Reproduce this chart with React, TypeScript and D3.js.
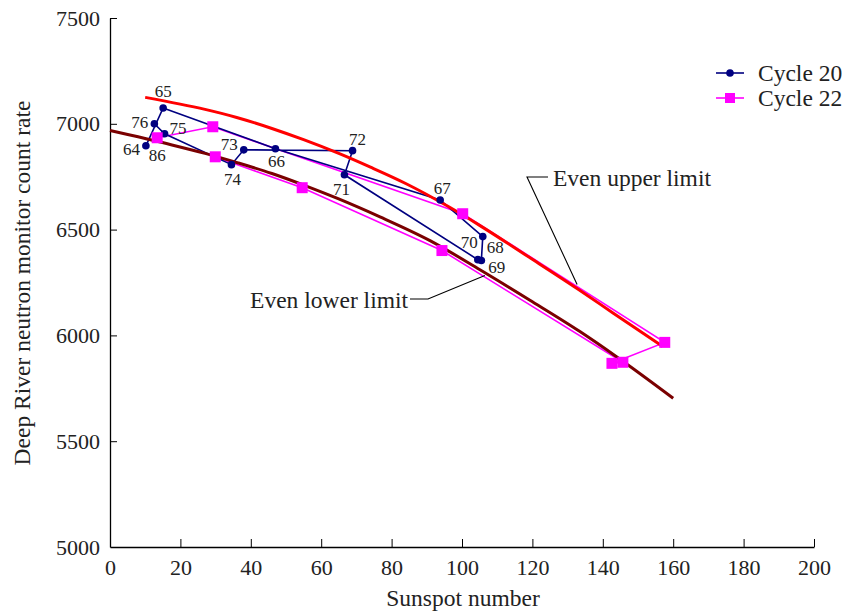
import { useEffect, useRef } from "react";
import * as d3 from "d3";

// Cycle 20 (1964-1976): sunspot number vs count rate
const cycle20Years = ["64", "65", "66", "67", "68", "69", "70", "71", "72", "73", "74", "75", "76"];
const cycle20Sunspot = [10.2, 15.1, 47.0, 93.8, 105.9, 105.5, 104.5, 66.6, 68.9, 38.0, 34.5, 15.5, 12.6];
const cycle20Rate = [6896, 7075, 6882, 6640, 6467, 6354, 6358, 6759, 6873, 6877, 6807, 6953, 7000];

// Cycle 22 (1986-1994)
const cycle22Years = ["86", "87", "88", "89", "90", "91", "92", "93", "94"];
const cycle22Sunspot = [13.4, 29.2, 100.2, 157.6, 142.6, 145.7, 94.3, 54.6, 29.9];
const cycle22Rate = [6934, 6986, 6575, 5967, 5868, 5873, 6401, 6698, 6844];

// limit curves
const upperX = [10, 27, 36, 46, 55, 65, 74, 84, 96, 105, 119, 133, 143, 157];
const upperY = [7125, 7068, 7030, 6978, 6925, 6860, 6795, 6718, 6610, 6520, 6370, 6218, 6105, 5948];
const lowerX = [0, 17.6, 27, 36.4, 46, 55.4, 64.8, 76.7, 90.9, 105.1, 119.3, 133.5, 144, 160];
const lowerY = [6968, 6900, 6860, 6815, 6765, 6708, 6646, 6560, 6448, 6310, 6166, 6018, 5898, 5703];

const xTicks = [0, 20, 40, 60, 80, 100, 120, 140, 160, 180, 200];
const yTicks = [5000, 5500, 6000, 6500, 7000, 7500];

// label offsets for year labels [dx, dy, anchor]
const labelPos: Record<string, [number, number, string]> = {
  "64": [-6, 9, "end"],
  "65": [0, -11, "middle"],
  "66": [1, 18, "middle"],
  "67": [2, -6, "middle"],
  "68": [4, 16, "start"],
  "69": [7, 13, "start"],
  "70": [0, -12, "end"],
  "71": [-3, 20, "middle"],
  "72": [5, -6, "middle"],
  "73": [-6, 0, "end"],
  "74": [1, 20, "middle"],
  "75": [5, 0, "start"],
  "76": [-6, 4, "end"],
};

const FONT = "'Liberation Serif', 'Times New Roman', serif";
const TEXT = "#222";

const App = () => {
  const ref = useRef<SVGSVGElement | null>(null);

  useEffect(() => {
    const svg = d3.select(ref.current);
    svg.selectAll("*").remove();

    const x = d3.scaleLinear().domain([0, 200]).range([110, 814]);
    const y = d3.scaleLinear().domain([5000, 7500]).range([547, 18]);

    const c20 = cycle20Years.map((yr, i) => ({ yr, sx: cycle20Sunspot[i], r: cycle20Rate[i] }));
    const c22 = cycle22Years.map((yr, i) => ({ yr, sx: cycle22Sunspot[i], r: cycle22Rate[i] }));
    const upper = upperX.map((v, i) => [v, upperY[i]]);
    const lower = lowerX.map((v, i) => [v, lowerY[i]]);

    // axes
    const xAxis = d3.axisBottom(x).tickValues(xTicks).tickFormat(d3.format("d"))
      .tickSize(-8).tickSizeOuter(0).tickPadding(12);
    const yAxis = d3.axisLeft(y).tickValues(yTicks).tickFormat(d3.format("d"))
      .tickSize(-7).tickSizeOuter(0).tickPadding(10);

    const gx = svg.append("g").attr("transform", "translate(0,547)").call(xAxis);
    const gy = svg.append("g").attr("transform", "translate(110,0)").call(yAxis);
    [gx, gy].forEach((g) => {
      g.select(".domain").attr("stroke", "#000").attr("stroke-width", 1.3);
      g.selectAll(".tick line").attr("stroke", "#000").attr("stroke-width", 1);
      g.selectAll(".tick text")
        .attr("font-family", FONT)
        .attr("font-size", 22)
        .attr("fill", TEXT);
    });
    gx.selectAll(".tick").filter((d) => d === 0).select("line").remove();
    gy.selectAll(".tick").filter((d) => d === 5000).select("line").remove();

    svg.append("text")
      .attr("x", 463)
      .attr("y", 606)
      .attr("text-anchor", "middle")
      .attr("font-family", FONT)
      .attr("font-size", 23.5)
      .attr("fill", TEXT)
      .text("Sunspot number");

    svg.append("text")
      .attr("transform", "translate(30,283) rotate(-90)")
      .attr("text-anchor", "middle")
      .attr("font-family", FONT)
      .attr("font-size", 23.5)
      .attr("fill", TEXT)
      .text("Deep River neutron monitor count rate");

    const line = d3.line<any>().x((d) => x(d.sx)).y((d) => y(d.r));
    const curve = d3.line<number[]>().x((d) => x(d[0])).y((d) => y(d[1])).curve(d3.curveMonotoneX);

    // series lines
    svg.append("path").datum(c22).attr("d", line).attr("fill", "none")
      .attr("stroke", "#ff00ff").attr("stroke-width", 1.6);
    svg.append("path").datum(c20).attr("d", line).attr("fill", "none")
      .attr("stroke", "#000080").attr("stroke-width", 1.6);

    // limit curves
    svg.append("path").datum(upper).attr("d", curve).attr("fill", "none")
      .attr("stroke", "#ff0000").attr("stroke-width", 3);
    svg.append("path").datum(lower).attr("d", curve).attr("fill", "none")
      .attr("stroke", "#7a0000").attr("stroke-width", 3);

    // markers
    svg.selectAll(".c20dot").data(c20).enter().append("circle")
      .attr("cx", (d) => x(d.sx)).attr("cy", (d) => y(d.r)).attr("r", 3.8)
      .attr("fill", "#000080");
    svg.selectAll(".c22sq").data(c22).enter().append("rect")
      .attr("x", (d) => x(d.sx) - 5.5).attr("y", (d) => y(d.r) - 5.5)
      .attr("width", 11).attr("height", 11).attr("fill", "#ff00ff");

    // year labels
    svg.selectAll(".c20lab").data(c20).enter().append("text")
      .attr("x", (d) => x(d.sx) + labelPos[d.yr][0])
      .attr("y", (d) => y(d.r) + labelPos[d.yr][1])
      .attr("text-anchor", (d) => labelPos[d.yr][2])
      .attr("font-family", FONT).attr("font-size", 17).attr("fill", TEXT)
      .text((d) => d.yr);
    const first22 = c22[0];
    svg.append("text")
      .attr("x", x(first22.sx))
      .attr("y", y(first22.r) + 23)
      .attr("text-anchor", "middle")
      .attr("font-family", FONT).attr("font-size", 17).attr("fill", TEXT)
      .text(first22.yr);

    // annotations
    const upPt = [132.7, 6241];
    svg.append("path")
      .attr("d", `M${x(upPt[0])},${y(upPt[1])}L527,177L548,177`)
      .attr("fill", "none").attr("stroke", "#000").attr("stroke-width", 1.1);
    svg.append("text").attr("x", 553).attr("y", 186)
      .attr("font-family", FONT).attr("font-size", 23.5).attr("fill", TEXT)
      .text("Even upper limit");

    const lowPt = [106.5, 6283];
    svg.append("path")
      .attr("d", `M${x(lowPt[0])},${y(lowPt[1])}L428,299L410,299`)
      .attr("fill", "none").attr("stroke", "#000").attr("stroke-width", 1.1);
    svg.append("text").attr("x", 408).attr("y", 308).attr("text-anchor", "end")
      .attr("font-family", FONT).attr("font-size", 23.5).attr("fill", TEXT)
      .text("Even lower limit");

    // legend
    const legend = [
      { name: "Cycle 20", color: "#000080", shape: "circle", yy: 73 },
      { name: "Cycle 22", color: "#ff00ff", shape: "square", yy: 98 },
    ];
    legend.forEach((l) => {
      svg.append("line").attr("x1", 716).attr("x2", 744).attr("y1", l.yy).attr("y2", l.yy)
        .attr("stroke", l.color).attr("stroke-width", 1.6);
      if (l.shape === "circle") {
        svg.append("circle").attr("cx", 730).attr("cy", l.yy).attr("r", 3.8).attr("fill", l.color);
      } else {
        svg.append("rect").attr("x", 725).attr("y", l.yy - 5).attr("width", 10).attr("height", 10)
          .attr("fill", l.color);
      }
      svg.append("text").attr("x", 758).attr("y", l.yy + 8)
        .attr("font-family", FONT).attr("font-size", 23.5).attr("fill", TEXT)
        .text(l.name);
    });
  }, []);

  return (
    <div>
      <svg
        ref={ref}
        width={846}
        height={613}
        style={{ position: "absolute", left: 0, top: 0, background: "#fff" }}
      />
    </div>
  );
};

export default App;
